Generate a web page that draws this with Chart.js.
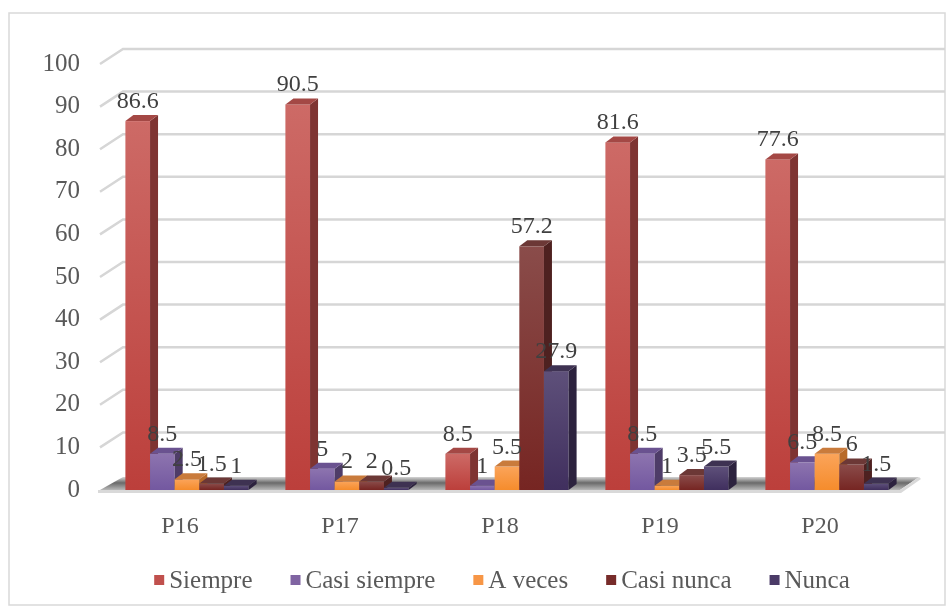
<!DOCTYPE html>
<html>
<head>
<meta charset="utf-8">
<script src="https://cdn.jsdelivr.net/npm/chart.js@4.4.1/dist/chart.umd.min.js"></script>
<style>
  html, body { margin: 0; background: #fff; }
  #wrap { width: 952px; height: 611px; position: relative; }
</style>
</head>
<body>
<div id="wrap"><canvas id="encuesta"></canvas></div>
<script>
const preguntas = ['P16', 'P17', 'P18', 'P19', 'P20'];
const siempre = [86.6, 90.5, 8.5, 81.6, 77.6];
const casiSiempre = [8.5, 5, 1, 8.5, 6.5];
const aVeces = [2.5, 2, 5.5, 1, 8.5];
const casiNunca = [1.5, 2, 57.2, 3.5, 6];
const nunca = [1, 0.5, 27.9, 5.5, 1.5];
const yTicks = [0, 10, 20, 30, 40, 50, 60, 70, 80, 90, 100];

// front gradient (top, bottom), side face, top face
const shades = [
    { base: '#C0504D', light: '#CD6A66', dark: '#BC3F3B', side: '#7E3432', top: '#A44845' },
    { base: '#8064A2', light: '#8D74AF', dark: '#7358A0', side: '#4E3C68', top: '#6A5290' },
    { base: '#F79646', light: '#FBA45A', dark: '#F58C2C', side: '#B86A28', top: '#C97B3C' },
    { base: '#772C2A', light: '#8A4C4A', dark: '#762522', side: '#4E2120', top: '#6C3836' },
    { base: '#4B3B67', light: '#5E507A', dark: '#402F5E', side: '#2C223E', top: '#3E3252' }
];

const FONT = 'Liberation Serif';
const DX = 8, DY = 6;          // bar depth
const GX = 23, GY = 15;        // back wall offset
const SHIFT = 7;               // bars sit a little behind the front plane

const bar3d = {
    id: 'bar3d',
    beforeDraw(chart) {
        const ctx = chart.ctx;
        ctx.save();
        ctx.strokeStyle = '#D9D9D9';
        ctx.lineWidth = 1.5;
        ctx.strokeRect(9, 13, 936, 592);
        ctx.restore();
    },
    beforeDatasetsDraw(chart) {
        const ctx = chart.ctx;
        const y = chart.scales.y;
        const { left, right } = chart.chartArea;
        ctx.save();
        // back wall grid with the slanted side wall segments
        ctx.strokeStyle = '#D6D6D6';
        ctx.lineWidth = 2.5;
        yTicks.forEach(v => {
            if (v === 0) return;
            const py = y.getPixelForValue(v);
            ctx.beginPath();
            ctx.moveTo(left, py);
            ctx.lineTo(left + GX, py - GY);
            ctx.lineTo(945, py - GY);
            ctx.stroke();
        });
        // floor
        const b = y.getPixelForValue(0);
        const g = ctx.createLinearGradient(0, b - 13, 0, b);
        g.addColorStop(0, '#D4D4D4');
        g.addColorStop(0.45, '#6A6A6A');
        g.addColorStop(1, '#B8B8B8');
        ctx.fillStyle = g;
        ctx.beginPath();
        ctx.moveTo(left, b);
        ctx.lineTo(left + GX, b - 13);
        ctx.lineTo(right + GX - 4, b - 13);
        ctx.lineTo(right, b);
        ctx.closePath();
        ctx.fill();
        ctx.fillStyle = '#D9D9D9';
        ctx.beginPath();
        ctx.moveTo(left - 2, b);
        ctx.lineTo(right, b);
        ctx.lineTo(right + GX - 4, b - 13);
        ctx.lineTo(right + GX - 2, b - 11);
        ctx.lineTo(right + 1, b + 3);
        ctx.lineTo(left - 2, b + 3);
        ctx.closePath();
        ctx.fill();
        ctx.restore();
    },
    beforeDatasetDraw() {
        return false;
    },
    afterDatasetsDraw(chart) {
        const ctx = chart.ctx;
        const sets = chart.data.datasets;
        const labels = [];
        ctx.save();
        preguntas.forEach((p, i) => {
            sets.forEach((ds, d) => {
                const el = chart.getDatasetMeta(d).data[i];
                const { x, y, base, width } = el.getProps(['x', 'y', 'base', 'width'], true);
                const c = shades[d];
                const x1 = x - width / 2 + SHIFT, x2 = x + width / 2 + SHIFT;
                const g = ctx.createLinearGradient(0, y, 0, base);
                g.addColorStop(0, c.light);
                g.addColorStop(1, c.dark);
                ctx.fillStyle = g;
                ctx.fillRect(x1, y, x2 - x1, base - y);
                ctx.fillStyle = c.side;
                ctx.beginPath();
                ctx.moveTo(x2, y);
                ctx.lineTo(x2 + DX, y - DY);
                ctx.lineTo(x2 + DX, base - DY);
                ctx.lineTo(x2, base);
                ctx.closePath();
                ctx.fill();
                ctx.fillStyle = c.top;
                ctx.beginPath();
                ctx.moveTo(x1, y);
                ctx.lineTo(x1 + DX, y - DY);
                ctx.lineTo(x2 + DX, y - DY);
                ctx.lineTo(x2, y);
                ctx.closePath();
                ctx.fill();
                labels.push({ text: String(ds.data[i]), x: (x1 + x2) / 2, y: y - 13 });
            });
        });
        ctx.fillStyle = '#404040';
        ctx.font = '24px "' + FONT + '"';
        ctx.textAlign = 'center';
        ctx.textBaseline = 'alphabetic';
        labels.forEach(l => ctx.fillText(l.text, l.x, l.y));
        ctx.restore();
    },
    afterDraw(chart) {
        // legend row: small square, short gap, name
        const ctx = chart.ctx;
        const sets = chart.data.datasets;
        ctx.save();
        ctx.font = '25px "' + FONT + '"';
        ctx.textBaseline = 'middle';
        ctx.textAlign = 'left';
        const widths = sets.map(ds => ctx.measureText(ds.label).width);
        const gap = 38;
        const total = widths.reduce((a, w) => a + 15 + w, 0) + gap * (sets.length - 1);
        let x = 502 - total / 2;
        const cy = 580;
        sets.forEach((ds, d) => {
            ctx.fillStyle = shades[d].base;
            ctx.fillRect(x, cy - 5, 10, 10);
            ctx.fillStyle = '#595959';
            ctx.fillText(ds.label, x + 15, cy + 1);
            x += 15 + widths[d] + gap;
        });
        ctx.restore();
    }
};

const series = [
    ['Siempre', siempre],
    ['Casi siempre', casiSiempre],
    ['A veces', aVeces],
    ['Casi nunca', casiNunca],
    ['Nunca', nunca]
];

new Chart(document.getElementById('encuesta'), {
    type: 'bar',
    data: {
        labels: preguntas,
        datasets: series.map(([name, values], d) => ({
            label: name,
            data: values,
            backgroundColor: shades[d].base,
            borderWidth: 0,
            categoryPercentage: 0.77,
            barPercentage: 1
        }))
    },
    options: {
        responsive: true,
        maintainAspectRatio: false,
        animation: false,
        layout: { padding: { top: 64, right: 52, bottom: 52, left: 0 } },
        scales: {
            x: {
                grid: { display: false },
                border: { display: false },
                ticks: { color: '#595959', font: { family: FONT, size: 24 }, padding: 14 },
                afterFit: s => { s.height = 69; }
            },
            y: {
                min: 0,
                max: 100,
                grid: { display: false, drawTicks: false },
                border: { display: false },
                afterBuildTicks: s => { s.ticks = yTicks.map(v => ({ value: v })); },
                ticks: { color: '#595959', font: { family: FONT, size: 25 }, padding: 20 },
                afterFit: s => { s.width = 100; }
            }
        },
        plugins: {
            legend: { display: false },
            tooltip: { enabled: false }
        }
    },
    plugins: [bar3d]
});
</script>
</body>
</html>
